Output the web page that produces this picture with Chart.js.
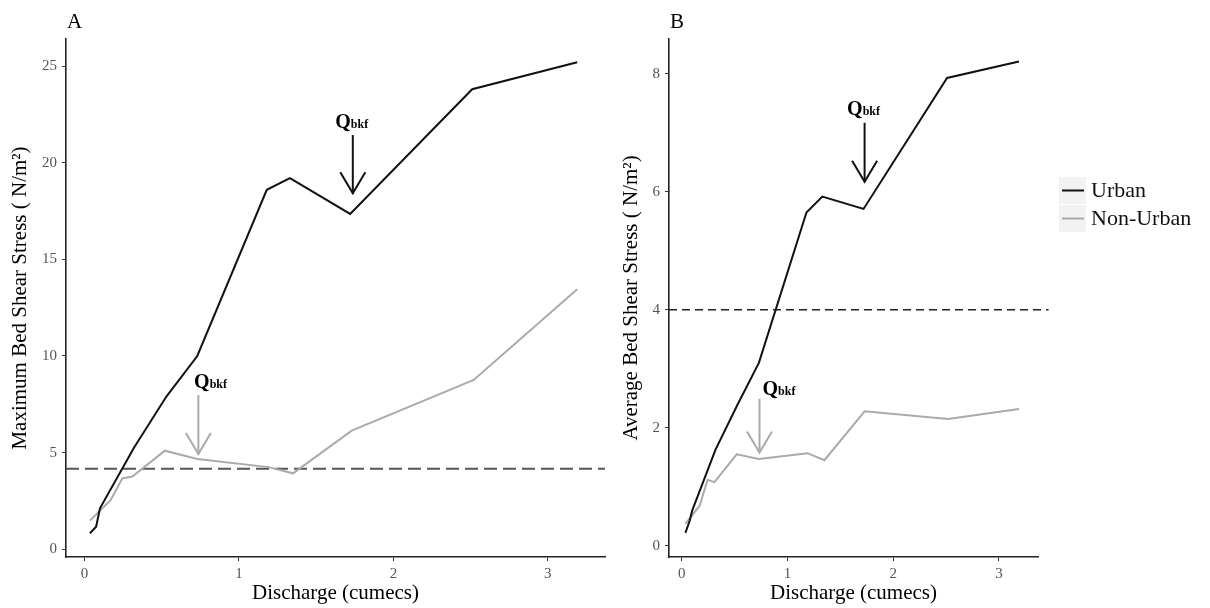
<!DOCTYPE html>
<html>
<head>
<meta charset="utf-8">
<title>Bed shear stress vs discharge</title>
<script src="https://cdn.jsdelivr.net/npm/chart.js@4.4.0/dist/chart.umd.min.js"></script>
<style>
  body { margin: 0; background: #fff; }
  #wrap { position: relative; width: 1210px; height: 608px; }
  #chartA { position: absolute; left: 0; top: 0; }
  #chartB { position: absolute; left: 600px; top: 0; }
</style>
</head>
<body>
<div id="wrap">
  <canvas id="chartA" width="620" height="608"></canvas>
  <canvas id="chartB" width="610" height="608"></canvas>
</div>
<script>
// Data (discharge in cumecs, shear stress in N/m2)
const seriesNames = ['Urban', 'Non-Urban'];
const seriesColors = ['#111111', '#aaaaaa'];

const urbanQ = [0.035, 0.075, 0.10, 0.32, 0.53, 0.73, 1.18, 1.33, 1.72, 2.51, 3.19];
const urbanMax = [0.83, 1.17, 2.12, 5.25, 7.9, 10.0, 18.6, 19.2, 17.35, 23.8, 25.2];
const urbanAvg = [0.22, 0.42, 0.60, 1.63, 2.40, 3.1, 5.65, 5.92, 5.71, 7.93, 8.21];

const nonUrbanQ = [0.035, 0.17, 0.245, 0.31, 0.52, 0.73, 1.19, 1.35, 1.73, 2.52, 3.19];
const nonUrbanMax = [1.48, 2.55, 3.67, 3.76, 5.10, 4.67, 4.25, 3.93, 6.14, 8.76, 13.45];
const nonUrbanAvg = [0.37, 0.68, 1.12, 1.08, 1.55, 1.47, 1.57, 1.45, 2.28, 2.15, 2.32];

// critical shear thresholds (dashed lines)
const thresholdMax = 4.17;
const thresholdAvg = 4.0;

// axis ranges and tick steps
const xRange = [-0.12, 3.37];
const yRangeA = [-0.4, 26.4];
const yRangeB = [-0.19, 8.59];
const xStep = 1, yStepA = 5, yStepB = 2;

// Qbkf arrows: [urban, non-urban]
const arrowXA = [1.737, 0.737], arrowTopA = [21.43, 7.98], arrowTipA = [18.42, 4.93];
const labelXA = [1.73, 0.816], labelYA = [21.8, 8.34];
const arrowXB = [1.73, 0.736], arrowTopB = [7.17, 2.49], arrowTipB = [6.17, 1.58];
const labelXB = [1.72, 0.92], labelYB = [7.3, 2.56];

const SERIF = "'Liberation Serif', 'Times New Roman', serif";
Chart.defaults.font.family = SERIF;

const toPoints = (xs, ys) => xs.map((v, i) => ({ x: v, y: ys[i] }));

// arrows, Qbkf labels, panel letter and the legend
const extrasPlugin = {
  id: 'extras',
  afterDatasetsDraw(chart, args, opts) {
    const { ctx, chartArea } = chart;
    const x = chart.scales.x, y = chart.scales.y;
    ctx.save();
    ctx.fillStyle = '#000';
    ctx.font = '21px ' + SERIF;
    ctx.textAlign = 'left';
    ctx.textBaseline = 'alphabetic';
    ctx.fillText(opts.letter, chartArea.left + 1, 28);

    opts.arrowX.forEach((ax, i) => {
      const px = x.getPixelForValue(ax);
      const top = y.getPixelForValue(opts.arrowTop[i]);
      const tip = y.getPixelForValue(opts.arrowTip[i]);
      ctx.strokeStyle = seriesColors[i];
      ctx.lineWidth = 2;
      ctx.beginPath();
      ctx.moveTo(px, top);
      ctx.lineTo(px, tip);
      ctx.stroke();
      ctx.beginPath();
      ctx.moveTo(px - 12.5, tip - 21);
      ctx.lineTo(px, tip);
      ctx.lineTo(px + 12.5, tip - 21);
      ctx.stroke();

      const lx = x.getPixelForValue(opts.labelX[i]);
      const ly = y.getPixelForValue(opts.labelY[i]);
      ctx.font = 'bold 20px ' + SERIF;
      const wq = ctx.measureText('Q').width;
      ctx.font = 'bold 12px ' + SERIF;
      const ws = ctx.measureText('bkf').width;
      const x0 = lx - (wq + ws) / 2;
      ctx.fillStyle = '#000';
      ctx.font = 'bold 20px ' + SERIF;
      ctx.fillText('Q', x0, ly);
      ctx.font = 'bold 12px ' + SERIF;
      ctx.fillText('bkf', x0 + wq, ly);
    });

    if (opts.legend) {
      const bx = chartArea.right + 21;
      seriesNames.forEach((name, i) => {
        const by = 177 + i * 28;
        ctx.fillStyle = '#f2f2f2';
        ctx.fillRect(bx, by, 27, 27);
        ctx.strokeStyle = seriesColors[i];
        ctx.lineWidth = 2;
        ctx.beginPath();
        ctx.moveTo(bx + 3, by + 13.5);
        ctx.lineTo(bx + 25, by + 13.5);
        ctx.stroke();
        ctx.fillStyle = '#111';
        ctx.font = '22px ' + SERIF;
        ctx.textBaseline = 'middle';
        ctx.fillText(name, bx + 32, by + 14);
        ctx.textBaseline = 'alphabetic';
      });
    }
    ctx.restore();
  }
};

function makeScales(yRange, yStep, yTitle, yAxisWidth, titlePad) {
  const tickFont = { size: 15, family: SERIF };
  return {
    x: {
      type: 'linear',
      min: xRange[0], max: xRange[1],
      afterFit: s => { s.height = 51; },
      grid: { display: true, drawOnChartArea: false, drawTicks: true, tickLength: 4, color: '#333' },
      border: { display: true, color: '#222', width: 1.6 },
      ticks: { stepSize: xStep, includeBounds: false, color: '#555', font: tickFont, padding: 4, maxRotation: 0 },
      title: { display: true, text: 'Discharge (cumecs)', color: '#000', font: { size: 21, family: SERIF }, padding: { top: 0, bottom: 2 } }
    },
    y: {
      type: 'linear',
      min: yRange[0], max: yRange[1],
      afterFit: s => { s.width = yAxisWidth; },
      grid: { display: true, drawOnChartArea: false, drawTicks: true, tickLength: 4, color: '#333' },
      border: { display: true, color: '#222', width: 1.6 },
      ticks: { stepSize: yStep, includeBounds: false, color: '#555', font: tickFont, padding: 5 },
      title: { display: true, text: yTitle, color: '#000', font: { size: 21, family: SERIF }, padding: { top: titlePad, bottom: 0 } }
    }
  };
}

function makeDatasets(urbanY, nonUrbanY, threshold, dashOpts) {
  return [
    {
      label: seriesNames[0],
      data: toPoints(urbanQ, urbanY),
      borderColor: seriesColors[0], borderWidth: 2, pointRadius: 0, tension: 0
    },
    {
      label: seriesNames[1],
      data: toPoints(nonUrbanQ, nonUrbanY),
      borderColor: seriesColors[1], borderWidth: 2, pointRadius: 0, tension: 0
    },
    {
      label: 'threshold',
      data: [{ x: xRange[0], y: threshold }, { x: dashOpts.end, y: threshold }],
      borderColor: dashOpts.color, borderWidth: dashOpts.width, borderDash: dashOpts.dash,
      pointRadius: 0, clip: false
    }
  ];
}

new Chart(document.getElementById('chartA'), {
  type: 'line',
  data: { datasets: makeDatasets(urbanMax, nonUrbanMax, thresholdMax, { end: xRange[1], color: '#555', width: 2, dash: [13, 6] }) },
  options: {
    responsive: false,
    animation: false,
    layout: { autoPadding: false, padding: { left: 0, top: 39, right: 15, bottom: 0 } },
    scales: makeScales(yRangeA, yStepA, 'Maximum Bed Shear Stress ( N/m\u00B2)', 66, 8),
    plugins: {
      legend: { display: false },
      tooltip: { enabled: false },
      extras: { letter: 'A', arrowX: arrowXA, arrowTop: arrowTopA, arrowTip: arrowTipA, labelX: labelXA, labelY: labelYA, legend: false }
    }
  },
  plugins: [extrasPlugin]
});

new Chart(document.getElementById('chartB'), {
  type: 'line',
  data: { datasets: makeDatasets(urbanAvg, nonUrbanAvg, thresholdAvg, { end: 3.47, color: '#222', width: 1.6, dash: [8, 5] }) },
  options: {
    responsive: false,
    animation: false,
    layout: { autoPadding: false, padding: { left: 0, top: 39, right: 172, bottom: 0 } },
    scales: makeScales(yRangeB, yStepB, 'Average Bed Shear Stress ( N/m\u00B2)', 69, 19),
    plugins: {
      legend: { display: false },
      tooltip: { enabled: false },
      extras: { letter: 'B', arrowX: arrowXB, arrowTop: arrowTopB, arrowTip: arrowTipB, labelX: labelXB, labelY: labelYB, legend: true }
    }
  },
  plugins: [extrasPlugin]
});
</script>
</body>
</html>
